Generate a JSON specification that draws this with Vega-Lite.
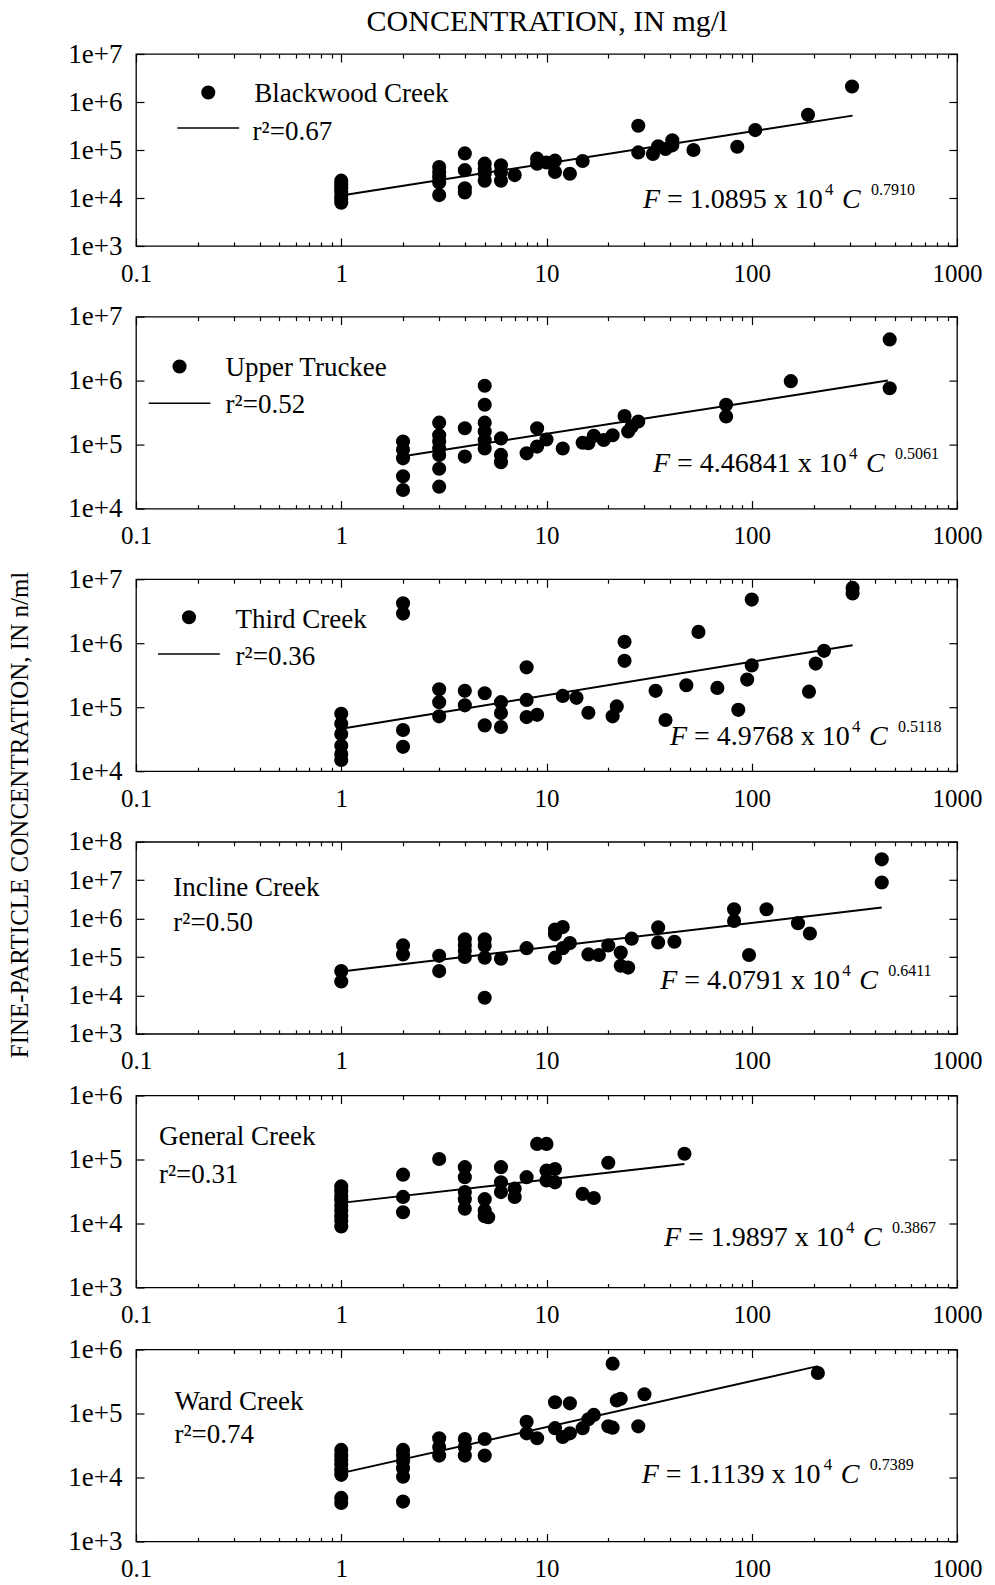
{
"$schema": "https://vega.github.io/schema/vega-lite/v6.json",
"padding": {"left": 8, "top": 5, "right": 5, "bottom": 0},
"background": "white",
"title": {"text": "FINE-PARTICLE CONCENTRATION, IN n/ml", "orient": "left", "anchor": "middle", "fontSize": 25, "fontWeight": "normal", "font": "Liberation Serif", "color": "black", "offset": 34, "dx": -21},
"spacing": 5.5,
"bounds": "full",
"datasets": {
"blackwood": [
{"C":1,"F":23000},{"C":1,"F":19000},{"C":1,"F":16000},{"C":1,"F":13500},{"C":1,"F":11000},{"C":1,"F":9500},{"C":1,"F":8000},
{"C":3,"F":44000},{"C":3,"F":35000},{"C":3,"F":27000},{"C":3,"F":21000},{"C":3,"F":11500},
{"C":4,"F":85000},{"C":4,"F":38000},{"C":4,"F":16000},{"C":4,"F":13000},
{"C":5,"F":52000},{"C":5,"F":40000},{"C":5,"F":32000},{"C":5,"F":23000},
{"C":6,"F":48000},{"C":6,"F":35000},{"C":6,"F":23000},
{"C":7,"F":30000},
{"C":9,"F":66000},{"C":9,"F":52000},
{"C":10,"F":55000},
{"C":11,"F":60000},{"C":11,"F":35000},
{"C":13,"F":32000},
{"C":15,"F":59000},
{"C":28,"F":320000},{"C":28,"F":89000},
{"C":33,"F":83000},
{"C":35,"F":120000},
{"C":38,"F":105000},
{"C":41,"F":160000},{"C":41,"F":125000},
{"C":52,"F":100000},
{"C":85,"F":117000},
{"C":104,"F":260000},
{"C":188,"F":540000},
{"C":308,"F":2100000}
],
"blackwood_fit": [{"C":1,"F":11300},{"C":310,"F":520000}],
"truckee": [
{"C":2,"F":112000},{"C":2,"F":83000},{"C":2,"F":61000},{"C":2,"F":32000},{"C":2,"F":19500},
{"C":3,"F":220000},{"C":3,"F":140000},{"C":3,"F":112000},{"C":3,"F":87000},{"C":3,"F":69000},{"C":3,"F":42000},{"C":3,"F":22000},
{"C":4,"F":180000},{"C":4,"F":65000},
{"C":5,"F":830000},{"C":5,"F":420000},{"C":5,"F":220000},{"C":5,"F":160000},{"C":5,"F":117000},{"C":5,"F":87000},
{"C":6,"F":125000},{"C":6,"F":69000},{"C":6,"F":53000},
{"C":8,"F":73000},
{"C":9,"F":180000},{"C":9,"F":93000},
{"C":10,"F":120000},
{"C":12,"F":87000},
{"C":15,"F":107000},
{"C":16,"F":105000},
{"C":17,"F":137000},
{"C":19,"F":118000},
{"C":21,"F":140000},
{"C":24,"F":280000},
{"C":25,"F":160000},
{"C":26,"F":190000},
{"C":28,"F":230000},
{"C":75,"F":420000},{"C":75,"F":275000},
{"C":155,"F":980000},
{"C":470,"F":4400000},{"C":470,"F":760000}
],
"truckee_fit": [{"C":2,"F":66000},{"C":460,"F":1000000}],
"third": [
{"C":1,"F":79000},{"C":1,"F":55000},{"C":1,"F":38000},{"C":1,"F":25000},{"C":1,"F":18500},{"C":1,"F":15000},
{"C":2,"F":4200000},{"C":2,"F":2900000},{"C":2,"F":44000},{"C":2,"F":24000},
{"C":3,"F":190000},{"C":3,"F":120000},{"C":3,"F":72000},
{"C":4,"F":180000},{"C":4,"F":107000},
{"C":5,"F":165000},{"C":5,"F":52000},
{"C":6,"F":120000},{"C":6,"F":81000},{"C":6,"F":49000},
{"C":8,"F":420000},{"C":8,"F":130000},{"C":8,"F":70000},
{"C":9,"F":76000},
{"C":12,"F":150000},
{"C":14,"F":140000},
{"C":16,"F":82000},
{"C":21,"F":72000},
{"C":22,"F":103000},
{"C":24,"F":1050000},{"C":24,"F":530000},
{"C":34,"F":180000},
{"C":38,"F":63000},
{"C":48,"F":220000},
{"C":55,"F":1500000},
{"C":68,"F":200000},
{"C":86,"F":91000},
{"C":95,"F":270000},
{"C":100,"F":4800000},{"C":100,"F":450000},
{"C":190,"F":175000},
{"C":205,"F":480000},
{"C":225,"F":760000},
{"C":310,"F":7300000},{"C":310,"F":6000000}
],
"third_fit": [{"C":1,"F":46000},{"C":310,"F":930000}],
"incline": [
{"C":1,"F":43000},{"C":1,"F":23000},
{"C":2,"F":200000},{"C":2,"F":117000},
{"C":3,"F":107000},{"C":3,"F":43000},
{"C":4,"F":290000},{"C":4,"F":205000},{"C":4,"F":145000},{"C":4,"F":100000},
{"C":5,"F":290000},{"C":5,"F":195000},{"C":5,"F":96000},{"C":5,"F":8700},
{"C":6,"F":90000},
{"C":8,"F":170000},
{"C":11,"F":520000},{"C":11,"F":390000},{"C":11,"F":96000},
{"C":12,"F":600000},{"C":12,"F":170000},
{"C":13,"F":230000},
{"C":16,"F":117000},
{"C":18,"F":113000},
{"C":20,"F":200000},
{"C":23,"F":130000},{"C":23,"F":59000},
{"C":25,"F":53000},
{"C":26,"F":300000},
{"C":35,"F":590000},{"C":35,"F":240000},
{"C":42,"F":250000},
{"C":82,"F":1750000},{"C":82,"F":870000},
{"C":97,"F":113000},
{"C":118,"F":1750000},
{"C":168,"F":760000},
{"C":192,"F":410000},
{"C":430,"F":35000000},{"C":430,"F":8700000}
],
"incline_fit": [{"C":1,"F":42000},{"C":430,"F":1950000}],
"general": [
{"C":1,"F":38000},{"C":1,"F":32000},{"C":1,"F":27000},{"C":1,"F":23000},{"C":1,"F":19000},{"C":1,"F":16000},{"C":1,"F":13000},{"C":1,"F":11000},{"C":1,"F":9000},
{"C":2,"F":58000},{"C":2,"F":26000},{"C":2,"F":15000},
{"C":3,"F":102000},
{"C":4,"F":76000},{"C":4,"F":53000},{"C":4,"F":31000},{"C":4,"F":24000},{"C":4,"F":17000},
{"C":5,"F":24000},{"C":5,"F":16000},{"C":5,"F":13000},
{"C":5.2,"F":12500},
{"C":6,"F":76000},{"C":6,"F":44000},{"C":6,"F":31000},
{"C":7,"F":35000},{"C":7,"F":26000},
{"C":8,"F":53000},
{"C":9,"F":175000},
{"C":10,"F":175000},{"C":10,"F":67000},{"C":10,"F":47000},
{"C":11,"F":71000},{"C":11,"F":44000},
{"C":15,"F":29000},
{"C":17,"F":25000},
{"C":20,"F":89000},
{"C":47,"F":123000}
],
"general_fit": [{"C":1,"F":21000},{"C":47,"F":85000}],
"ward": [
{"C":1,"F":27000},{"C":1,"F":22000},{"C":1,"F":19000},{"C":1,"F":16000},{"C":1,"F":13000},{"C":1,"F":11000},{"C":1,"F":4800},{"C":1,"F":4000},
{"C":2,"F":27000},{"C":2,"F":22000},{"C":2,"F":18000},{"C":2,"F":14000},{"C":2,"F":10300},{"C":2,"F":4200},
{"C":3,"F":41000},{"C":3,"F":30000},{"C":3,"F":22000},
{"C":4,"F":40000},{"C":4,"F":30000},{"C":4,"F":22000},
{"C":5,"F":40000},{"C":5,"F":22000},
{"C":8,"F":74000},{"C":8,"F":49000},
{"C":9,"F":41000},
{"C":11,"F":150000},{"C":11,"F":59000},
{"C":12,"F":43000},
{"C":13,"F":144000},{"C":13,"F":49000},
{"C":15,"F":59000},
{"C":16,"F":81000},
{"C":17,"F":95000},
{"C":20,"F":63000},
{"C":21,"F":600000},{"C":21,"F":60000},
{"C":22,"F":160000},
{"C":23,"F":170000},
{"C":28,"F":63000},
{"C":30,"F":200000},
{"C":210,"F":430000}
],
"ward_fit": [{"C":1,"F":11700},{"C":210,"F":550000}],
"one": [{}]
},
"vconcat": [
{
"spacing": 70.6,
"bounds": "flush",
"vconcat": [
{
"width": 821, "height": 192,
"resolve": {"axis": {"x": "independent", "y": "independent"}},
"layer": [
{"data": {"name": "blackwood"}, "mark": {"type": "circle", "size": 200, "color": "black", "opacity": 1},
 "encoding": {
  "x": {"field": "C", "type": "quantitative", "scale": {"type": "log", "domain": [0.1, 1000]}, "axis": {"orient": "bottom", "values": [0.1, 1, 10, 100, 1000], "format": "~g", "labelFlush": false, "labelOverlap": false, "title": null}},
  "y": {"field": "F", "type": "quantitative", "scale": {"type": "log", "domain": [1000, 10000000]}, "axis": {"orient": "left", "values": [1000, 10000, 100000, 1000000, 10000000], "format": ".0e", "labelFlush": false, "labelOverlap": false, "title": null}}}},
{"data": {"name": "blackwood_fit"}, "mark": {"type": "line", "color": "black", "strokeWidth": 2},
 "encoding": {
  "x": {"field": "C", "type": "quantitative", "scale": {"type": "log", "domain": [0.1, 1000]}, "axis": {"orient": "top", "values": [0.1, 1, 10, 100, 1000], "labels": false, "title": "CONCENTRATION, IN mg/l", "titlePadding": 17, "titleFontSize": 30}},
  "y": {"field": "F", "type": "quantitative", "scale": {"type": "log", "domain": [1000, 10000000]}, "axis": {"orient": "right", "values": [1000, 10000, 100000, 1000000, 10000000], "labels": false, "title": null}}}},
{"data": {"name": "one"}, "mark": {"type": "text", "text": "Blackwood Creek", "align": "left", "baseline": "middle", "fontSize": 27},
 "encoding": {
  "x": {"datum": 0.377, "type": "quantitative", "scale": {"type": "log", "domain": [0.1, 1000]}, "axis": {"orient": "bottom", "values": [0.2,0.3,0.4,0.5,0.6,0.7,0.8,0.9,2,3,4,5,6,7,8,9,20,30,40,50,60,70,80,90,200,300,400,500,600,700,800,900], "labels": false, "tickSize": -4, "title": null}},
  "y": {"datum": 1470000, "type": "quantitative", "scale": {"type": "log", "domain": [1000, 10000000]}, "axis": null}}},
{"data": {"name": "one"}, "mark": {"type": "text", "text": "r²=0.67", "align": "left", "baseline": "middle", "fontSize": 27},
 "encoding": {
  "x": {"datum": 0.370, "type": "quantitative", "scale": {"type": "log", "domain": [0.1, 1000]}, "axis": {"orient": "top", "values": [0.2,0.3,0.4,0.5,0.6,0.7,0.8,0.9,2,3,4,5,6,7,8,9,20,30,40,50,60,70,80,90,200,300,400,500,600,700,800,900], "labels": false, "tickSize": -4, "title": null}},
  "y": {"datum": 233000, "type": "quantitative", "scale": {"type": "log", "domain": [1000, 10000000]}, "axis": null}}},
{"data": {"name": "one"}, "mark": {"type": "circle", "size": 200, "color": "black", "opacity": 1},
 "encoding": {
  "x": {"datum": 0.225, "type": "quantitative", "scale": {"type": "log", "domain": [0.1, 1000]}, "axis": null},
  "y": {"datum": 1580000, "type": "quantitative", "scale": {"type": "log", "domain": [1000, 10000000]}, "axis": null}}},
{"data": {"name": "one"}, "mark": {"type": "rule", "color": "black", "strokeWidth": 1.5},
 "encoding": {
  "x": {"datum": 0.159, "type": "quantitative", "scale": {"type": "log", "domain": [0.1, 1000]}, "axis": null},
  "x2": {"datum": 0.318},
  "y": {"datum": 287000, "type": "quantitative", "scale": {"type": "log", "domain": [1000, 10000000]}, "axis": null}}},
{"data": {"name": "one"}, "mark": {"type": "text", "text": "F", "fontStyle": "italic", "align": "left", "baseline": "alphabetic", "fontSize": 28, "dx": 0},
 "encoding": {"x": {"datum": 29.5, "type": "quantitative", "scale": {"type": "log", "domain": [0.1, 1000]}, "axis": null}, "y": {"datum": 6200, "type": "quantitative", "scale": {"type": "log", "domain": [1000, 10000000]}, "axis": null}}},
{"data": {"name": "one"}, "mark": {"type": "text", "text": "= 1.0895 x 10", "align": "left", "baseline": "alphabetic", "fontSize": 28, "dx": 24},
 "encoding": {"x": {"datum": 29.5, "type": "quantitative", "scale": {"type": "log", "domain": [0.1, 1000]}, "axis": null}, "y": {"datum": 6200, "type": "quantitative", "scale": {"type": "log", "domain": [1000, 10000000]}, "axis": null}}},
{"data": {"name": "one"}, "mark": {"type": "text", "text": "4", "align": "left", "baseline": "alphabetic", "fontSize": 17, "dx": 182, "dy": -13},
 "encoding": {"x": {"datum": 29.5, "type": "quantitative", "scale": {"type": "log", "domain": [0.1, 1000]}, "axis": null}, "y": {"datum": 6200, "type": "quantitative", "scale": {"type": "log", "domain": [1000, 10000000]}, "axis": null}}},
{"data": {"name": "one"}, "mark": {"type": "text", "text": "C", "fontStyle": "italic", "align": "left", "baseline": "alphabetic", "fontSize": 28, "dx": 199},
 "encoding": {"x": {"datum": 29.5, "type": "quantitative", "scale": {"type": "log", "domain": [0.1, 1000]}, "axis": null}, "y": {"datum": 6200, "type": "quantitative", "scale": {"type": "log", "domain": [1000, 10000000]}, "axis": null}}},
{"data": {"name": "one"}, "mark": {"type": "text", "text": "0.7910", "align": "left", "baseline": "alphabetic", "fontSize": 16, "dx": 228, "dy": -13},
 "encoding": {"x": {"datum": 29.5, "type": "quantitative", "scale": {"type": "log", "domain": [0.1, 1000]}, "axis": null}, "y": {"datum": 6200, "type": "quantitative", "scale": {"type": "log", "domain": [1000, 10000000]}, "axis": null}}}
]
},
{
"width": 821, "height": 192,
"resolve": {"axis": {"x": "independent", "y": "independent"}},
"layer": [
{"data": {"name": "truckee"}, "mark": {"type": "circle", "size": 200, "color": "black", "opacity": 1},
 "encoding": {
  "x": {"field": "C", "type": "quantitative", "scale": {"type": "log", "domain": [0.1, 1000]}, "axis": {"orient": "bottom", "values": [0.1, 1, 10, 100, 1000], "format": "~g", "labelFlush": false, "labelOverlap": false, "title": null}},
  "y": {"field": "F", "type": "quantitative", "scale": {"type": "log", "domain": [10000, 10000000]}, "axis": {"orient": "left", "values": [10000, 100000, 1000000, 10000000], "format": ".0e", "labelFlush": false, "labelOverlap": false, "title": null}}}},
{"data": {"name": "truckee_fit"}, "mark": {"type": "line", "color": "black", "strokeWidth": 2},
 "encoding": {
  "x": {"field": "C", "type": "quantitative", "scale": {"type": "log", "domain": [0.1, 1000]}, "axis": {"orient": "top", "values": [0.1, 1, 10, 100, 1000], "labels": false, "title": null}},
  "y": {"field": "F", "type": "quantitative", "scale": {"type": "log", "domain": [10000, 10000000]}, "axis": {"orient": "right", "values": [10000, 100000, 1000000, 10000000], "labels": false, "title": null}}}},
{"data": {"name": "one"}, "mark": {"type": "text", "text": "Upper Truckee", "align": "left", "baseline": "middle", "fontSize": 27},
 "encoding": {
  "x": {"datum": 0.2733, "type": "quantitative", "scale": {"type": "log", "domain": [0.1, 1000]}, "axis": {"orient": "bottom", "values": [0.2,0.3,0.4,0.5,0.6,0.7,0.8,0.9,2,3,4,5,6,7,8,9,20,30,40,50,60,70,80,90,200,300,400,500,600,700,800,900], "labels": false, "tickSize": -4, "title": null}},
  "y": {"datum": 1560000, "type": "quantitative", "scale": {"type": "log", "domain": [10000, 10000000]}, "axis": null}}},
{"data": {"name": "one"}, "mark": {"type": "text", "text": "r²=0.52", "align": "left", "baseline": "middle", "fontSize": 27},
 "encoding": {
  "x": {"datum": 0.2733, "type": "quantitative", "scale": {"type": "log", "domain": [0.1, 1000]}, "axis": {"orient": "top", "values": [0.2,0.3,0.4,0.5,0.6,0.7,0.8,0.9,2,3,4,5,6,7,8,9,20,30,40,50,60,70,80,90,200,300,400,500,600,700,800,900], "labels": false, "tickSize": -4, "title": null}},
  "y": {"datum": 418000, "type": "quantitative", "scale": {"type": "log", "domain": [10000, 10000000]}, "axis": null}}},
{"data": {"name": "one"}, "mark": {"type": "circle", "size": 200, "color": "black", "opacity": 1},
 "encoding": {
  "x": {"datum": 0.163, "type": "quantitative", "scale": {"type": "log", "domain": [0.1, 1000]}, "axis": null},
  "y": {"datum": 1660000, "type": "quantitative", "scale": {"type": "log", "domain": [10000, 10000000]}, "axis": null}}},
{"data": {"name": "one"}, "mark": {"type": "rule", "color": "black", "strokeWidth": 1.5},
 "encoding": {
  "x": {"datum": 0.1153, "type": "quantitative", "scale": {"type": "log", "domain": [0.1, 1000]}, "axis": null},
  "x2": {"datum": 0.2304},
  "y": {"datum": 444000, "type": "quantitative", "scale": {"type": "log", "domain": [10000, 10000000]}, "axis": null}}},
{"data": {"name": "one"}, "mark": {"type": "text", "text": "F", "fontStyle": "italic", "align": "left", "baseline": "alphabetic", "fontSize": 28, "dx": 0},
 "encoding": {"x": {"datum": 33, "type": "quantitative", "scale": {"type": "log", "domain": [0.1, 1000]}, "axis": null}, "y": {"datum": 37300, "type": "quantitative", "scale": {"type": "log", "domain": [10000, 10000000]}, "axis": null}}},
{"data": {"name": "one"}, "mark": {"type": "text", "text": "= 4.46841 x 10", "align": "left", "baseline": "alphabetic", "fontSize": 28, "dx": 24},
 "encoding": {"x": {"datum": 33, "type": "quantitative", "scale": {"type": "log", "domain": [0.1, 1000]}, "axis": null}, "y": {"datum": 37300, "type": "quantitative", "scale": {"type": "log", "domain": [10000, 10000000]}, "axis": null}}},
{"data": {"name": "one"}, "mark": {"type": "text", "text": "4", "align": "left", "baseline": "alphabetic", "fontSize": 17, "dx": 196, "dy": -13},
 "encoding": {"x": {"datum": 33, "type": "quantitative", "scale": {"type": "log", "domain": [0.1, 1000]}, "axis": null}, "y": {"datum": 37300, "type": "quantitative", "scale": {"type": "log", "domain": [10000, 10000000]}, "axis": null}}},
{"data": {"name": "one"}, "mark": {"type": "text", "text": "C", "fontStyle": "italic", "align": "left", "baseline": "alphabetic", "fontSize": 28, "dx": 213},
 "encoding": {"x": {"datum": 33, "type": "quantitative", "scale": {"type": "log", "domain": [0.1, 1000]}, "axis": null}, "y": {"datum": 37300, "type": "quantitative", "scale": {"type": "log", "domain": [10000, 10000000]}, "axis": null}}},
{"data": {"name": "one"}, "mark": {"type": "text", "text": "0.5061", "align": "left", "baseline": "alphabetic", "fontSize": 16, "dx": 242, "dy": -13},
 "encoding": {"x": {"datum": 33, "type": "quantitative", "scale": {"type": "log", "domain": [0.1, 1000]}, "axis": null}, "y": {"datum": 37300, "type": "quantitative", "scale": {"type": "log", "domain": [10000, 10000000]}, "axis": null}}}
]
},
{
"width": 821, "height": 192,
"resolve": {"axis": {"x": "independent", "y": "independent"}},
"layer": [
{"data": {"name": "third"}, "mark": {"type": "circle", "size": 200, "color": "black", "opacity": 1},
 "encoding": {
  "x": {"field": "C", "type": "quantitative", "scale": {"type": "log", "domain": [0.1, 1000]}, "axis": {"orient": "bottom", "values": [0.1, 1, 10, 100, 1000], "format": "~g", "labelFlush": false, "labelOverlap": false, "title": null}},
  "y": {"field": "F", "type": "quantitative", "scale": {"type": "log", "domain": [10000, 10000000]}, "axis": {"orient": "left", "values": [10000, 100000, 1000000, 10000000], "format": ".0e", "labelFlush": false, "labelOverlap": false, "title": null}}}},
{"data": {"name": "third_fit"}, "mark": {"type": "line", "color": "black", "strokeWidth": 2},
 "encoding": {
  "x": {"field": "C", "type": "quantitative", "scale": {"type": "log", "domain": [0.1, 1000]}, "axis": {"orient": "top", "values": [0.1, 1, 10, 100, 1000], "labels": false, "title": null}},
  "y": {"field": "F", "type": "quantitative", "scale": {"type": "log", "domain": [10000, 10000000]}, "axis": {"orient": "right", "values": [10000, 100000, 1000000, 10000000], "labels": false, "title": null}}}},
{"data": {"name": "one"}, "mark": {"type": "text", "text": "Third Creek", "align": "left", "baseline": "middle", "fontSize": 27},
 "encoding": {
  "x": {"datum": 0.3057, "type": "quantitative", "scale": {"type": "log", "domain": [0.1, 1000]}, "axis": {"orient": "bottom", "values": [0.2,0.3,0.4,0.5,0.6,0.7,0.8,0.9,2,3,4,5,6,7,8,9,20,30,40,50,60,70,80,90,200,300,400,500,600,700,800,900], "labels": false, "tickSize": -4, "title": null}},
  "y": {"datum": 2300000, "type": "quantitative", "scale": {"type": "log", "domain": [10000, 10000000]}, "axis": null}}},
{"data": {"name": "one"}, "mark": {"type": "text", "text": "r²=0.36", "align": "left", "baseline": "middle", "fontSize": 27},
 "encoding": {
  "x": {"datum": 0.3057, "type": "quantitative", "scale": {"type": "log", "domain": [0.1, 1000]}, "axis": {"orient": "top", "values": [0.2,0.3,0.4,0.5,0.6,0.7,0.8,0.9,2,3,4,5,6,7,8,9,20,30,40,50,60,70,80,90,200,300,400,500,600,700,800,900], "labels": false, "tickSize": -4, "title": null}},
  "y": {"datum": 599000, "type": "quantitative", "scale": {"type": "log", "domain": [10000, 10000000]}, "axis": null}}},
{"data": {"name": "one"}, "mark": {"type": "circle", "size": 200, "color": "black", "opacity": 1},
 "encoding": {
  "x": {"datum": 0.1812, "type": "quantitative", "scale": {"type": "log", "domain": [0.1, 1000]}, "axis": null},
  "y": {"datum": 2540000, "type": "quantitative", "scale": {"type": "log", "domain": [10000, 10000000]}, "axis": null}}},
{"data": {"name": "one"}, "mark": {"type": "rule", "color": "black", "strokeWidth": 1.5},
 "encoding": {
  "x": {"datum": 0.1281, "type": "quantitative", "scale": {"type": "log", "domain": [0.1, 1000]}, "axis": null},
  "x2": {"datum": 0.256},
  "y": {"datum": 675000, "type": "quantitative", "scale": {"type": "log", "domain": [10000, 10000000]}, "axis": null}}},
{"data": {"name": "one"}, "mark": {"type": "text", "text": "F", "fontStyle": "italic", "align": "left", "baseline": "alphabetic", "fontSize": 28, "dx": 0},
 "encoding": {"x": {"datum": 40, "type": "quantitative", "scale": {"type": "log", "domain": [0.1, 1000]}, "axis": null}, "y": {"datum": 25300, "type": "quantitative", "scale": {"type": "log", "domain": [10000, 10000000]}, "axis": null}}},
{"data": {"name": "one"}, "mark": {"type": "text", "text": "= 4.9768 x 10", "align": "left", "baseline": "alphabetic", "fontSize": 28, "dx": 24},
 "encoding": {"x": {"datum": 40, "type": "quantitative", "scale": {"type": "log", "domain": [0.1, 1000]}, "axis": null}, "y": {"datum": 25300, "type": "quantitative", "scale": {"type": "log", "domain": [10000, 10000000]}, "axis": null}}},
{"data": {"name": "one"}, "mark": {"type": "text", "text": "4", "align": "left", "baseline": "alphabetic", "fontSize": 17, "dx": 182, "dy": -13},
 "encoding": {"x": {"datum": 40, "type": "quantitative", "scale": {"type": "log", "domain": [0.1, 1000]}, "axis": null}, "y": {"datum": 25300, "type": "quantitative", "scale": {"type": "log", "domain": [10000, 10000000]}, "axis": null}}},
{"data": {"name": "one"}, "mark": {"type": "text", "text": "C", "fontStyle": "italic", "align": "left", "baseline": "alphabetic", "fontSize": 28, "dx": 199},
 "encoding": {"x": {"datum": 40, "type": "quantitative", "scale": {"type": "log", "domain": [0.1, 1000]}, "axis": null}, "y": {"datum": 25300, "type": "quantitative", "scale": {"type": "log", "domain": [10000, 10000000]}, "axis": null}}},
{"data": {"name": "one"}, "mark": {"type": "text", "text": "0.5118", "align": "left", "baseline": "alphabetic", "fontSize": 16, "dx": 228, "dy": -13},
 "encoding": {"x": {"datum": 40, "type": "quantitative", "scale": {"type": "log", "domain": [0.1, 1000]}, "axis": null}, "y": {"datum": 25300, "type": "quantitative", "scale": {"type": "log", "domain": [10000, 10000000]}, "axis": null}}}
]
},
{
"width": 821, "height": 192,
"resolve": {"axis": {"x": "independent", "y": "independent"}},
"layer": [
{"data": {"name": "incline"}, "mark": {"type": "circle", "size": 200, "color": "black", "opacity": 1},
 "encoding": {
  "x": {"field": "C", "type": "quantitative", "scale": {"type": "log", "domain": [0.1, 1000]}, "axis": {"orient": "bottom", "values": [0.1, 1, 10, 100, 1000], "format": "~g", "labelFlush": false, "labelOverlap": false, "title": null}},
  "y": {"field": "F", "type": "quantitative", "scale": {"type": "log", "domain": [1000, 100000000]}, "axis": {"orient": "left", "values": [1000, 10000, 100000, 1000000, 10000000, 100000000], "format": ".0e", "labelFlush": false, "labelOverlap": false, "title": null}}}},
{"data": {"name": "incline_fit"}, "mark": {"type": "line", "color": "black", "strokeWidth": 2},
 "encoding": {
  "x": {"field": "C", "type": "quantitative", "scale": {"type": "log", "domain": [0.1, 1000]}, "axis": {"orient": "top", "values": [0.1, 1, 10, 100, 1000], "labels": false, "title": null}},
  "y": {"field": "F", "type": "quantitative", "scale": {"type": "log", "domain": [1000, 100000000]}, "axis": {"orient": "right", "values": [1000, 10000, 100000, 1000000, 10000000, 100000000], "labels": false, "title": null}}}},
{"data": {"name": "one"}, "mark": {"type": "text", "text": "Incline Creek", "align": "left", "baseline": "middle", "fontSize": 27},
 "encoding": {
  "x": {"datum": 0.152, "type": "quantitative", "scale": {"type": "log", "domain": [0.1, 1000]}, "axis": {"orient": "bottom", "values": [0.2,0.3,0.4,0.5,0.6,0.7,0.8,0.9,2,3,4,5,6,7,8,9,20,30,40,50,60,70,80,90,200,300,400,500,600,700,800,900], "labels": false, "tickSize": -4, "title": null}},
  "y": {"datum": 6300000, "type": "quantitative", "scale": {"type": "log", "domain": [1000, 100000000]}, "axis": null}}},
{"data": {"name": "one"}, "mark": {"type": "text", "text": "r²=0.50", "align": "left", "baseline": "middle", "fontSize": 27},
 "encoding": {
  "x": {"datum": 0.152, "type": "quantitative", "scale": {"type": "log", "domain": [0.1, 1000]}, "axis": {"orient": "top", "values": [0.2,0.3,0.4,0.5,0.6,0.7,0.8,0.9,2,3,4,5,6,7,8,9,20,30,40,50,60,70,80,90,200,300,400,500,600,700,800,900], "labels": false, "tickSize": -4, "title": null}},
  "y": {"datum": 770000, "type": "quantitative", "scale": {"type": "log", "domain": [1000, 100000000]}, "axis": null}}},
{"data": {"name": "one"}, "mark": {"type": "text", "text": "F", "fontStyle": "italic", "align": "left", "baseline": "alphabetic", "fontSize": 28, "dx": 0},
 "encoding": {"x": {"datum": 35.8, "type": "quantitative", "scale": {"type": "log", "domain": [0.1, 1000]}, "axis": null}, "y": {"datum": 14800, "type": "quantitative", "scale": {"type": "log", "domain": [1000, 100000000]}, "axis": null}}},
{"data": {"name": "one"}, "mark": {"type": "text", "text": "= 4.0791 x 10", "align": "left", "baseline": "alphabetic", "fontSize": 28, "dx": 24},
 "encoding": {"x": {"datum": 35.8, "type": "quantitative", "scale": {"type": "log", "domain": [0.1, 1000]}, "axis": null}, "y": {"datum": 14800, "type": "quantitative", "scale": {"type": "log", "domain": [1000, 100000000]}, "axis": null}}},
{"data": {"name": "one"}, "mark": {"type": "text", "text": "4", "align": "left", "baseline": "alphabetic", "fontSize": 17, "dx": 182, "dy": -13},
 "encoding": {"x": {"datum": 35.8, "type": "quantitative", "scale": {"type": "log", "domain": [0.1, 1000]}, "axis": null}, "y": {"datum": 14800, "type": "quantitative", "scale": {"type": "log", "domain": [1000, 100000000]}, "axis": null}}},
{"data": {"name": "one"}, "mark": {"type": "text", "text": "C", "fontStyle": "italic", "align": "left", "baseline": "alphabetic", "fontSize": 28, "dx": 199},
 "encoding": {"x": {"datum": 35.8, "type": "quantitative", "scale": {"type": "log", "domain": [0.1, 1000]}, "axis": null}, "y": {"datum": 14800, "type": "quantitative", "scale": {"type": "log", "domain": [1000, 100000000]}, "axis": null}}},
{"data": {"name": "one"}, "mark": {"type": "text", "text": "0.6411", "align": "left", "baseline": "alphabetic", "fontSize": 16, "dx": 228, "dy": -13},
 "encoding": {"x": {"datum": 35.8, "type": "quantitative", "scale": {"type": "log", "domain": [0.1, 1000]}, "axis": null}, "y": {"datum": 14800, "type": "quantitative", "scale": {"type": "log", "domain": [1000, 100000000]}, "axis": null}}}
]
}
]
},
{
"spacing": 62,
"bounds": "flush",
"vconcat": [
{
"width": 821, "height": 192,
"resolve": {"axis": {"x": "independent", "y": "independent"}},
"layer": [
{"data": {"name": "general"}, "mark": {"type": "circle", "size": 200, "color": "black", "opacity": 1},
 "encoding": {
  "x": {"field": "C", "type": "quantitative", "scale": {"type": "log", "domain": [0.1, 1000]}, "axis": {"orient": "bottom", "values": [0.1, 1, 10, 100, 1000], "format": "~g", "labelFlush": false, "labelOverlap": false, "title": null}},
  "y": {"field": "F", "type": "quantitative", "scale": {"type": "log", "domain": [1000, 1000000]}, "axis": {"orient": "left", "values": [1000, 10000, 100000, 1000000], "format": ".0e", "labelFlush": false, "labelOverlap": false, "title": null}}}},
{"data": {"name": "general_fit"}, "mark": {"type": "line", "color": "black", "strokeWidth": 2},
 "encoding": {
  "x": {"field": "C", "type": "quantitative", "scale": {"type": "log", "domain": [0.1, 1000]}, "axis": {"orient": "top", "values": [0.1, 1, 10, 100, 1000], "labels": false, "title": null}},
  "y": {"field": "F", "type": "quantitative", "scale": {"type": "log", "domain": [1000, 1000000]}, "axis": {"orient": "right", "values": [1000, 10000, 100000, 1000000], "labels": false, "title": null}}}},
{"data": {"name": "one"}, "mark": {"type": "text", "text": "General Creek", "align": "left", "baseline": "middle", "fontSize": 27},
 "encoding": {
  "x": {"datum": 0.1293, "type": "quantitative", "scale": {"type": "log", "domain": [0.1, 1000]}, "axis": {"orient": "bottom", "values": [0.2,0.3,0.4,0.5,0.6,0.7,0.8,0.9,2,3,4,5,6,7,8,9,20,30,40,50,60,70,80,90,200,300,400,500,600,700,800,900], "labels": false, "tickSize": -4, "title": null}},
  "y": {"datum": 228000, "type": "quantitative", "scale": {"type": "log", "domain": [1000, 1000000]}, "axis": null}}},
{"data": {"name": "one"}, "mark": {"type": "text", "text": "r²=0.31", "align": "left", "baseline": "middle", "fontSize": 27},
 "encoding": {
  "x": {"datum": 0.1293, "type": "quantitative", "scale": {"type": "log", "domain": [0.1, 1000]}, "axis": {"orient": "top", "values": [0.2,0.3,0.4,0.5,0.6,0.7,0.8,0.9,2,3,4,5,6,7,8,9,20,30,40,50,60,70,80,90,200,300,400,500,600,700,800,900], "labels": false, "tickSize": -4, "title": null}},
  "y": {"datum": 58000, "type": "quantitative", "scale": {"type": "log", "domain": [1000, 1000000]}, "axis": null}}},
{"data": {"name": "one"}, "mark": {"type": "text", "text": "F", "fontStyle": "italic", "align": "left", "baseline": "alphabetic", "fontSize": 28, "dx": 0},
 "encoding": {"x": {"datum": 37.4, "type": "quantitative", "scale": {"type": "log", "domain": [0.1, 1000]}, "axis": null}, "y": {"datum": 4530, "type": "quantitative", "scale": {"type": "log", "domain": [1000, 1000000]}, "axis": null}}},
{"data": {"name": "one"}, "mark": {"type": "text", "text": "= 1.9897 x 10", "align": "left", "baseline": "alphabetic", "fontSize": 28, "dx": 24},
 "encoding": {"x": {"datum": 37.4, "type": "quantitative", "scale": {"type": "log", "domain": [0.1, 1000]}, "axis": null}, "y": {"datum": 4530, "type": "quantitative", "scale": {"type": "log", "domain": [1000, 1000000]}, "axis": null}}},
{"data": {"name": "one"}, "mark": {"type": "text", "text": "4", "align": "left", "baseline": "alphabetic", "fontSize": 17, "dx": 182, "dy": -13},
 "encoding": {"x": {"datum": 37.4, "type": "quantitative", "scale": {"type": "log", "domain": [0.1, 1000]}, "axis": null}, "y": {"datum": 4530, "type": "quantitative", "scale": {"type": "log", "domain": [1000, 1000000]}, "axis": null}}},
{"data": {"name": "one"}, "mark": {"type": "text", "text": "C", "fontStyle": "italic", "align": "left", "baseline": "alphabetic", "fontSize": 28, "dx": 199},
 "encoding": {"x": {"datum": 37.4, "type": "quantitative", "scale": {"type": "log", "domain": [0.1, 1000]}, "axis": null}, "y": {"datum": 4530, "type": "quantitative", "scale": {"type": "log", "domain": [1000, 1000000]}, "axis": null}}},
{"data": {"name": "one"}, "mark": {"type": "text", "text": "0.3867", "align": "left", "baseline": "alphabetic", "fontSize": 16, "dx": 228, "dy": -13},
 "encoding": {"x": {"datum": 37.4, "type": "quantitative", "scale": {"type": "log", "domain": [0.1, 1000]}, "axis": null}, "y": {"datum": 4530, "type": "quantitative", "scale": {"type": "log", "domain": [1000, 1000000]}, "axis": null}}}
]
},
{
"width": 821, "height": 192,
"resolve": {"axis": {"x": "independent", "y": "independent"}},
"layer": [
{"data": {"name": "ward"}, "mark": {"type": "circle", "size": 200, "color": "black", "opacity": 1},
 "encoding": {
  "x": {"field": "C", "type": "quantitative", "scale": {"type": "log", "domain": [0.1, 1000]}, "axis": {"orient": "bottom", "values": [0.1, 1, 10, 100, 1000], "format": "~g", "labelFlush": false, "labelOverlap": false, "title": null}},
  "y": {"field": "F", "type": "quantitative", "scale": {"type": "log", "domain": [1000, 1000000]}, "axis": {"orient": "left", "values": [1000, 10000, 100000, 1000000], "format": ".0e", "labelFlush": false, "labelOverlap": false, "title": null}}}},
{"data": {"name": "ward_fit"}, "mark": {"type": "line", "color": "black", "strokeWidth": 2},
 "encoding": {
  "x": {"field": "C", "type": "quantitative", "scale": {"type": "log", "domain": [0.1, 1000]}, "axis": {"orient": "top", "values": [0.1, 1, 10, 100, 1000], "labels": false, "title": null}},
  "y": {"field": "F", "type": "quantitative", "scale": {"type": "log", "domain": [1000, 1000000]}, "axis": {"orient": "right", "values": [1000, 10000, 100000, 1000000], "labels": false, "title": null}}}},
{"data": {"name": "one"}, "mark": {"type": "text", "text": "Ward Creek", "align": "left", "baseline": "middle", "fontSize": 27},
 "encoding": {
  "x": {"datum": 0.1539, "type": "quantitative", "scale": {"type": "log", "domain": [0.1, 1000]}, "axis": {"orient": "bottom", "values": [0.2,0.3,0.4,0.5,0.6,0.7,0.8,0.9,2,3,4,5,6,7,8,9,20,30,40,50,60,70,80,90,200,300,400,500,600,700,800,900], "labels": false, "tickSize": -4, "title": null}},
  "y": {"datum": 151000, "type": "quantitative", "scale": {"type": "log", "domain": [1000, 1000000]}, "axis": null}}},
{"data": {"name": "one"}, "mark": {"type": "text", "text": "r²=0.74", "align": "left", "baseline": "middle", "fontSize": 27},
 "encoding": {
  "x": {"datum": 0.1539, "type": "quantitative", "scale": {"type": "log", "domain": [0.1, 1000]}, "axis": {"orient": "top", "values": [0.2,0.3,0.4,0.5,0.6,0.7,0.8,0.9,2,3,4,5,6,7,8,9,20,30,40,50,60,70,80,90,200,300,400,500,600,700,800,900], "labels": false, "tickSize": -4, "title": null}},
  "y": {"datum": 45600, "type": "quantitative", "scale": {"type": "log", "domain": [1000, 1000000]}, "axis": null}}},
{"data": {"name": "one"}, "mark": {"type": "text", "text": "F", "fontStyle": "italic", "align": "left", "baseline": "alphabetic", "fontSize": 28, "dx": 0},
 "encoding": {"x": {"datum": 29.1, "type": "quantitative", "scale": {"type": "log", "domain": [0.1, 1000]}, "axis": null}, "y": {"datum": 8100, "type": "quantitative", "scale": {"type": "log", "domain": [1000, 1000000]}, "axis": null}}},
{"data": {"name": "one"}, "mark": {"type": "text", "text": "= 1.1139 x 10", "align": "left", "baseline": "alphabetic", "fontSize": 28, "dx": 24},
 "encoding": {"x": {"datum": 29.1, "type": "quantitative", "scale": {"type": "log", "domain": [0.1, 1000]}, "axis": null}, "y": {"datum": 8100, "type": "quantitative", "scale": {"type": "log", "domain": [1000, 1000000]}, "axis": null}}},
{"data": {"name": "one"}, "mark": {"type": "text", "text": "4", "align": "left", "baseline": "alphabetic", "fontSize": 17, "dx": 182, "dy": -13},
 "encoding": {"x": {"datum": 29.1, "type": "quantitative", "scale": {"type": "log", "domain": [0.1, 1000]}, "axis": null}, "y": {"datum": 8100, "type": "quantitative", "scale": {"type": "log", "domain": [1000, 1000000]}, "axis": null}}},
{"data": {"name": "one"}, "mark": {"type": "text", "text": "C", "fontStyle": "italic", "align": "left", "baseline": "alphabetic", "fontSize": 28, "dx": 199},
 "encoding": {"x": {"datum": 29.1, "type": "quantitative", "scale": {"type": "log", "domain": [0.1, 1000]}, "axis": null}, "y": {"datum": 8100, "type": "quantitative", "scale": {"type": "log", "domain": [1000, 1000000]}, "axis": null}}},
{"data": {"name": "one"}, "mark": {"type": "text", "text": "0.7389", "align": "left", "baseline": "alphabetic", "fontSize": 16, "dx": 228, "dy": -13},
 "encoding": {"x": {"datum": 29.1, "type": "quantitative", "scale": {"type": "log", "domain": [0.1, 1000]}, "axis": null}, "y": {"datum": 8100, "type": "quantitative", "scale": {"type": "log", "domain": [1000, 1000000]}, "axis": null}}}
]
}
]
}
],
"config": {
 "font": "Liberation Serif",
 "view": {"stroke": "black", "strokeWidth": 1.3},
 "axis": {"grid": false, "domain": false, "ticks": true, "tickSize": -8, "tickColor": "black", "tickWidth": 1.2, "labelFont": "Liberation Serif", "labelFontSize": 25, "labelColor": "black", "titleFont": "Liberation Serif", "titleFontWeight": "normal", "titleFontSize": 26, "titleColor": "black"},
 "axisX": {"labelPadding": 23},
 "axisY": {"labelPadding": 22, "labelFontSize": 27},
 "text": {"font": "Liberation Serif", "color": "black"}
}
}
